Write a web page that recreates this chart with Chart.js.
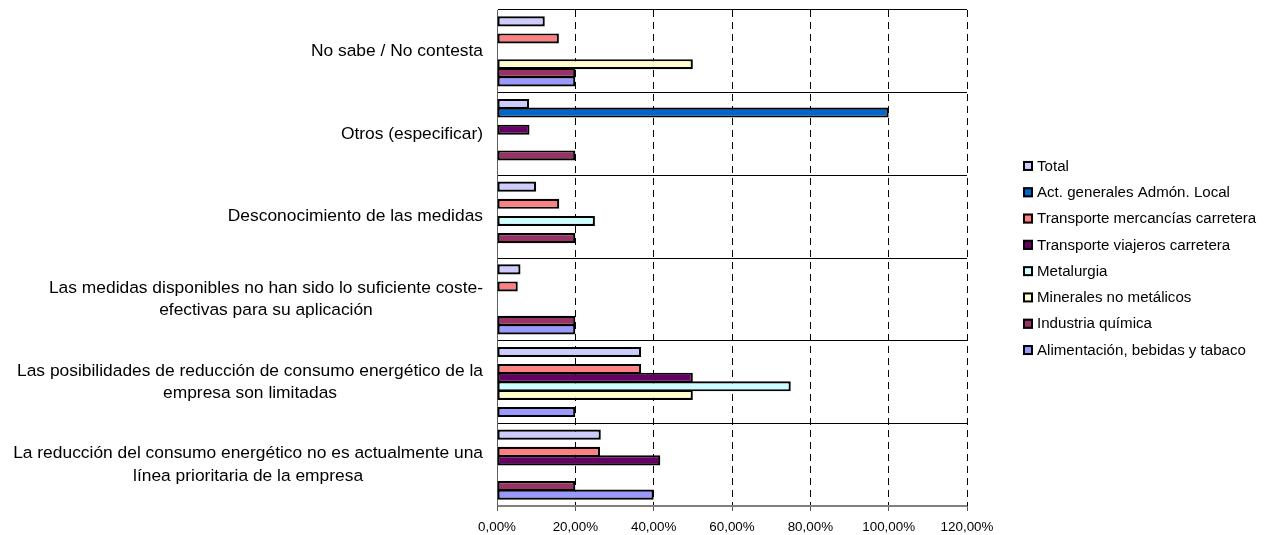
<!DOCTYPE html>
<html>
<head>
<meta charset="utf-8">
<script src="https://cdn.jsdelivr.net/npm/chart.js@4/dist/chart.umd.min.js"></script>
<style>
    body { margin: 0; background: #fff; }
    #wrap { width: 1275px; height: 535px; }
</style>
</head>
<body>
<div id="wrap"><canvas id="chart-barreras" width="1275" height="535"></canvas></div>
<script>
//categorias (de arriba a abajo)
var categorias = [
    ['No sabe / No contesta'],
    ['Otros (especificar)'],
    ['Desconocimiento de las medidas'],
    ['Las medidas disponibles no han sido lo suficiente coste-', 'efectivas para su aplicación'],
    ['Las posibilidades de reducción de consumo energético de la', 'empresa son limitadas'],
    ['La reducción del consumo energético no es actualmente una', 'línea prioritaria de la empresa']
];

//valores en %
var total = [12.2, 8.2, 10.0, 6.0, 36.8, 26.5];
var actAdmon = [null, 100, null, null, null, null];
var transMercancias = [15.8, null, 15.9, 5.3, 36.8, 26.3];
var transViajeros = [null, 8.3, null, null, 50, 41.7];
var metalurgia = [null, null, 25, null, 75, null];
var minerales = [50, null, null, null, 50, null];
var quimica = [20, 20, 20, 20, null, 20];
var alimentacion = [20, null, null, 20, 20, 40];

var series = ['Total', 'Act. generales Admón. Local', 'Transporte mercancías carretera', 'Transporte viajeros carretera',
    'Metalurgia', 'Minerales no metálicos', 'Industria química', 'Alimentación, bebidas y tabaco'];
var valores = [total, actAdmon, transMercancias, transViajeros, metalurgia, minerales, quimica, alimentacion];
var colores = ['#CCCCFF', '#0066CC', '#FF8080', '#660066', '#CCFFFF', '#FFFFCC', '#993366', '#9999FF'];

var xTicks = [0, 20, 40, 60, 80, 100, 120];

var FONT = '"Liberation Sans", Arial, sans-serif';

//dibuja las etiquetas de categoria (centradas por bloque, alineadas a la derecha)
var labelsPlugin = {
    id: 'labelsPlugin',
    afterDraw: function (chart) {
        var ctx = chart.ctx;
        var yScale = chart.scales.y;
        var right = 483;
        var lineH = 22.3;
        ctx.save();
        ctx.font = '17.4px ' + FONT;
        ctx.fillStyle = '#000';
        ctx.textAlign = 'center';
        ctx.textBaseline = 'middle';
        categorias.forEach(function (lines, i) {
            var w = 0;
            lines.forEach(function (l) { w = Math.max(w, ctx.measureText(l).width); });
            var cx = right - w / 2;
            var cy = yScale.getPixelForTick(i);
            lines.forEach(function (l, j) {
                ctx.fillText(l, cx, cy + (j - (lines.length - 1) / 2) * lineH);
            });
        });
        ctx.restore();
    }
};

//leyenda a la derecha
var legendPlugin = {
    id: 'legendPlugin',
    afterDraw: function (chart) {
        var ctx = chart.ctx;
        var area = chart.chartArea;
        var step = 26.3;
        var boxX = 1023;
        var startY = (area.top + area.bottom) / 2 - (series.length - 1) / 2 * step;
        ctx.save();
        ctx.font = '15.1px ' + FONT;
        ctx.textBaseline = 'middle';
        ctx.textAlign = 'left';
        chart.data.datasets.forEach(function (ds, i) {
            var y = startY + i * step;
            ctx.fillStyle = ds.backgroundColor;
            ctx.fillRect(boxX, y - 5, 10, 10);
            ctx.lineWidth = 2;
            ctx.strokeStyle = '#000';
            ctx.strokeRect(boxX + 1, y - 4, 8, 8);
            ctx.fillStyle = '#000';
            ctx.fillText(ds.label, boxX + 14, y + 0.5);
        });
        ctx.restore();
    }
};

var datasets = series.map(function (name, i) {
    return {
        label: name,
        data: valores[i],
        backgroundColor: colores[i],
        borderColor: '#000',
        borderWidth: 2.2,
        borderSkipped: false,
        barPercentage: 1.18,
        categoryPercentage: 0.83
    };
});

var chart = new Chart(document.getElementById('chart-barreras'), {
    type: 'bar',
    data: {
        labels: categorias.map(function (c) { return c.join(' '); }),
        datasets: datasets
    },
    options: {
        indexAxis: 'y',
        responsive: false,
        animation: false,
        devicePixelRatio: 1,
        layout: { padding: { left: 0, right: 308, top: 10, bottom: 0 } },
        plugins: {
            legend: { display: false },
            tooltip: { enabled: false }
        },
        scales: {
            x: {
                min: 0,
                max: 120,
                afterBuildTicks: function (scale) {
                    scale.ticks = xTicks.map(function (v) { return { value: v }; });
                },
                afterFit: function (scale) { scale.height = 29; },
                ticks: {
                    color: '#000',
                    padding: 8,
                    maxRotation: 0,
                    font: { family: FONT, size: 13.4 },
                    callback: function (v) { return Number(v).toFixed(2).replace('.', ',') + '%'; }
                },
                grid: {
                    color: function (c) { return c.tick && c.tick.value === 0 ? 'rgba(0,0,0,0)' : '#000'; },
                    lineWidth: 1,
                    drawTicks: true,
                    tickLength: 5,
                    tickColor: '#555'
                },
                border: { display: true, color: '#808080', width: 1, dash: [7, 5] }
            },
            y: {
                afterFit: function (scale) { scale.width = 497; },
                ticks: { display: false },
                grid: {
                    offset: true,
                    lineWidth: 1,
                    drawTicks: false,
                    color: function (c) { return c.type === 'tick' ? '#000' : '#808080'; }
                },
                border: { display: true, color: '#606060', width: 1 }
            }
        }
    },
    plugins: [labelsPlugin, legendPlugin]
});
</script>
</body>
</html>
